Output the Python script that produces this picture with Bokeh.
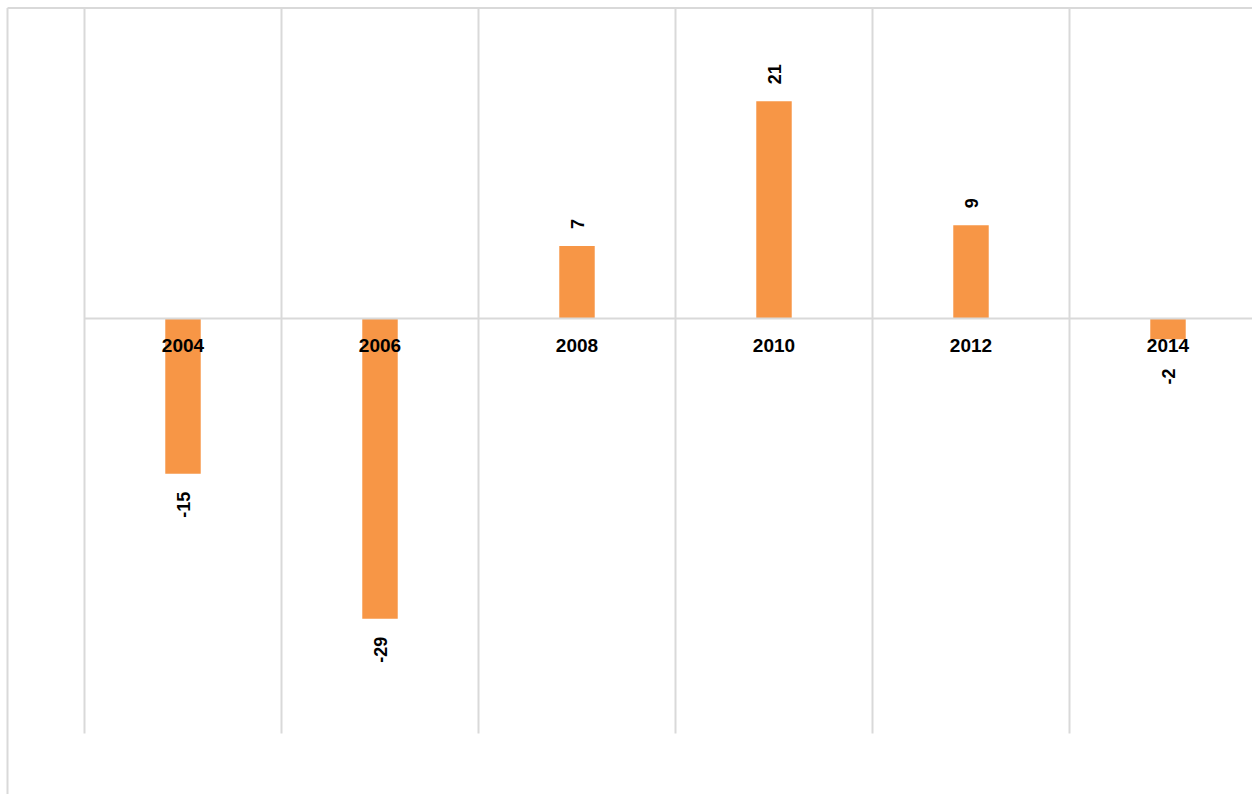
import math
from bokeh.plotting import figure
from bokeh.models import Range1d, ColumnDataSource
from bokeh.core.properties import value
from bokeh.embed import file_html
from bokeh.resources import INLINE

years = ["2004", "2006", "2008", "2010", "2012", "2014"]
values = [-15, -29, 7, 21, 9, -2]

GRID = "#D9D9D9"
BAR = "#F79646"
FONT = "Liberation Sans"

n = len(years)
xc = [i + 0.5 for i in range(n)]
labels = [str(v) for v in values]

PX = 10.35  # pixels per unit
X0, X1 = -84 / 197, (1252 - 84) / 197
Y1, Y0 = 318 / PX, -(794 - 318) / PX

p = figure(width=1252, height=794, output_backend="svg", toolbar_location=None,
           x_range=Range1d(X0, X1), y_range=Range1d(Y0, Y1),
           min_border=0, min_border_left=0, min_border_right=0,
           min_border_top=0, min_border_bottom=0)
p.xaxis.visible = False
p.yaxis.visible = False
p.xgrid.visible = False
p.ygrid.visible = False
p.outline_line_color = None
p.background_fill_color = "white"
p.border_fill_color = "white"

TOP = 30.0
BOT = -40.1
LEFT = -77 / 197

# chart border (left and top)
p.segment(x0=[LEFT, LEFT], y0=[TOP, TOP], x1=[LEFT, X1], y1=[Y0, TOP],
          line_color=GRID, line_width=2)

# category boundary grid lines
bounds = list(range(n + 1))
p.segment(x0=bounds, y0=[BOT] * len(bounds), x1=bounds, y1=[TOP] * len(bounds),
          line_color=GRID, line_width=2)

src = ColumnDataSource(dict(x=xc, top=values, year=years, lab=labels))
p.vbar(x="x", top="top", bottom=0, width=0.18, source=src, fill_color=BAR, line_color=None)

# zero line
p.segment(x0=[0], y0=[0], x1=[n], y1=[0], line_color=GRID, line_width=2)

# category labels at the zero line
p.text(x="x", y=0, text="year", source=src, y_offset=27,
       text_align="center", text_baseline="middle",
       text_font=value(FONT), text_font_style="bold", text_font_size="19px",
       text_color="#000000")

pos = ColumnDataSource(dict(x=[x for x, v in zip(xc, values) if v >= 0],
                            y=[v for v in values if v >= 0],
                            lab=[l for l, v in zip(labels, values) if v >= 0]))
# negative labels are kept clear of the category labels
neg = ColumnDataSource(dict(x=[x for x, v in zip(xc, values) if v < 0],
                            y=[min(v, -32 / PX) for v in values if v < 0],
                            lab=[l for l, v in zip(labels, values) if v < 0]))
p.text(x="x", y="y", text="lab", source=pos, angle=math.pi / 2, y_offset=-17,
       text_align="left", text_baseline="middle",
       text_font=value(FONT), text_font_style="bold", text_font_size="18px",
       text_color="#000000")
p.text(x="x", y="y", text="lab", source=neg, angle=math.pi / 2, y_offset=18,
       text_align="right", text_baseline="middle",
       text_font=value(FONT), text_font_style="bold", text_font_size="18px",
       text_color="#000000")

open("out.html", "w").write(file_html(p, INLINE))
